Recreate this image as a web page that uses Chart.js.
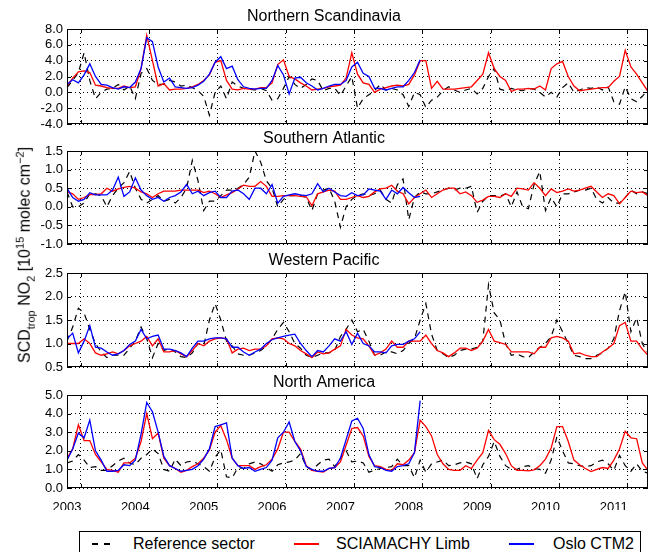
<!DOCTYPE html>
<html>
<head>
<meta charset="utf-8">
<script src="https://cdn.jsdelivr.net/npm/chart.js@4.4.0/dist/chart.umd.min.js"></script>
<style>
    body { margin: 0; background: #fff; font-family: "Liberation Sans", Arial, sans-serif; }
    #wrap { position: relative; width: 656px; height: 552px; overflow: hidden; }
    #wrap canvas { position: absolute; left: 0; }
    #ylabel {
        position: absolute; left: 25px; top: 255px; font-size: 16px; white-space: nowrap;
        transform: translate(-50%, -50%) rotate(-90deg);
    }
    #ylabel sub, #ylabel sup { font-size: 11px; }
    #legend {
        position: absolute; left: 79px; top: 531px; width: 560px; height: 30px;
        border: 1px solid #000; font-size: 16px;
    }
    #legend .sample { position: absolute; top: 11px; height: 2px; }
    #legend .txt { position: absolute; top: 3px; }
</style>
</head>
<body>
<div id="wrap">
    <canvas id="c1" width="656" height="131"></canvas>
    <canvas id="c2" width="656" height="129"></canvas>
    <canvas id="c3" width="656" height="130"></canvas>
    <canvas id="c4" width="656" height="143"></canvas>
    <div id="ylabel">SCD<sub>trop</sub> NO<sub>2</sub> [10<sup>15</sup> molec cm<sup>−2</sup>]</div>
    <div id="legend">
        <span class="sample" style="left:12px;width:20px;background:repeating-linear-gradient(to right,#000 0 6px,transparent 6px 12px);"></span>
        <span class="txt" style="left:53px;">Reference sector</span>
        <span class="sample" style="left:214px;width:25px;background:#f00;"></span>
        <span class="txt" style="left:256px;">SCIAMACHY Limb</span>
        <span class="sample" style="left:429px;width:25px;background:#00f;"></span>
        <span class="txt" style="left:473px;">Oslo CTM2</span>
    </div>
</div>
<script>
// monthly values, Jan 2003 .. Jul 2011 (index 0..102); Oslo CTM2 stops in early 2008
const yearTicks = [0, 12, 24, 36, 48, 60, 72, 84, 96];
const gridTicks = [2.4, 14.4, 26.4, 38.4, 50.4, 62.4, 74.4, 86.4, 98.4];

// Northern Scandinavia
const nsRef = [0.6, 1.5, 2.5, 5.0, 1.5, -0.8, 0.0, 0.4, 0.5, 1.0, 0.3, 0.8, -0.8, 2.4, 3.0, 1.5, 1.0, 1.0, 1.5, 1.3,
    0.8, 0.9, 0.6, 0.2, -0.5, -2.9, 0.0, 0.8, -0.8, 1.3, 0.8, 0.5, 0.4, 0.3, 0.5, 0.2, -1.0, -0.8, 0.5, 2.0,
    1.0, 0.5, 1.0, 1.7, 1.5, 0.2, 0.5, 0.5, -0.4, 0.8, 2.0, -2.0, -0.8, -0.3, 0.2, 1.0, 0.3, 0.5, 0.3, -0.3,
    -1.8, 0.0, -0.3, -1.9, -1.0, -0.6, 0.2, 0.7, 0.3, 0.0, 0.3, 0.5, -0.2, 0.5, 2.0, 3.0, 0.4, 0.2, 0.5, 0.3,
    0.2, 0.5, 0.4, 0.0, -0.6, 0.0, -0.6, 0.6, 1.2, 0.0, 0.3, 0.6, 0.5, 0.7, 0.3, 0.7, -1.2, -1.5, 0.7, -0.8,
    -1.2, -0.5, 0.3];
const nsSciamachy = [0.8, 1.8, 2.6, 2.7, 2.5, 0.9, 0.8, 0.6, 0.5, 0.5, 0.8, 0.6, 0.7, 3.0, 7.2, 4.0, 0.8, 1.1, 0.3, 0.4,
    0.4, 0.5, 0.7, 1.0, 1.5, 2.2, 3.8, 4.0, 1.5, 0.4, 0.3, 0.5, 0.4, 0.4, 0.6, 0.6, 1.2, 3.5, 4.1, 2.0,
    1.7, 1.2, 0.8, 0.3, 0.4, 0.5, 0.7, 0.8, 0.9, 1.8, 5.0, 2.3, 1.2, 1.0, 0.0, 0.4, 0.6, 0.8, 0.9, 0.8,
    1.0, 2.2, 4.0, 4.0, 0.5, 1.4, 0.4, 0.4, 0.4, 0.5, 0.6, 0.7, 1.5, 2.3, 5.0, 3.0, 2.0, 1.5, 0.1, 0.4,
    0.4, 0.5, 0.4, 0.8, 0.3, 3.0, 3.6, 3.9, 2.0, 0.8, 0.2, 0.3, 0.4, 0.5, 0.6, 0.6, 1.4, 2.0, 5.3, 3.2,
    2.3, 1.2, 0.1];
const nsOslo = [1.0, 1.6, 1.2, 2.2, 3.6, 2.0, 1.0, 0.9, 0.6, 0.4, 0.7, 0.6, 1.3, 3.0, 6.9, 6.4, 3.2, 1.3, 1.8, 0.7,
    0.6, 0.5, 0.6, 0.9, 1.4, 2.3, 3.8, 4.5, 3.0, 3.3, 1.6, 0.7, 0.5, 0.4, 0.5, 0.5, 1.5, 3.4, 2.2, -0.2,
    1.8, 1.9, 1.2, 0.8, 0.3, 0.5, 0.8, 1.0, 1.0, 1.5, 3.2, 3.8, 2.4, 2.0, 0.5, 0.5, 0.3, 0.5, 0.7, 0.7,
    1.5, 2.5, 4.1];

// Southern Atlantic
const saRef = [0.4, 0.0, 0.0, 0.1, 0.35, 0.35, 0.3, 0.0, 0.3, 0.5, 0.65, 0.95, 0.5, 0.2, 0.1, 0.2, 0.3, 0.15, 0.2, 0.1,
    0.25, 0.5, 1.25, 0.7, -0.1, 0.15, 0.15, 0.3, 0.45, 0.45, 0.5, 0.6, 0.8, 1.5, 1.2, 0.7, 0.5, 0.0, 0.2, 0.3,
    0.3, 0.3, 0.25, -0.1, 0.35, 0.45, 0.5, 0.15, -0.55, 0.0, 0.2, 0.3, 0.35, 0.3, 0.35, 0.45, 0.2, 0.1, 0.6, 0.75,
    -0.35, 0.25, 0.4, 0.35, 0.35, 0.4, 0.45, 0.5, 0.45, 0.5, 0.5, 0.55, -0.15, 0.15, 0.3, 0.3, 0.28, 0.35, 0.0, 0.4,
    0.0, -0.05, 0.6, 0.95, -0.1, 0.25, 0.0, 0.35, 0.35, 0.4, 0.45, 0.45, 0.5, 0.2, 0.1, 0.25, 0.1, 0.1, 0.25, 0.45,
    0.35, 0.4, 0.35];
const saSciamachy = [0.4, 0.35, 0.2, 0.25, 0.33, 0.33, 0.35, 0.5, 0.42, 0.48, 0.52, 0.55, 0.5, 0.4, 0.35, 0.25, 0.35, 0.42, 0.42, 0.42,
    0.45, 0.45, 0.45, 0.45, 0.38, 0.42, 0.35, 0.25, 0.32, 0.38, 0.48, 0.58, 0.55, 0.55, 0.68, 0.55, 0.28, 0.28, 0.3, 0.3,
    0.3, 0.28, 0.27, 0.03, 0.35, 0.4, 0.45, 0.42, 0.2, 0.2, 0.25, 0.3, 0.25, 0.28, 0.4, 0.48, 0.5, 0.58, 0.42, 0.35,
    0.08, 0.25, 0.35, 0.45, 0.25, 0.35, 0.45, 0.5, 0.5, 0.35, 0.4, 0.3, 0.12, 0.18, 0.28, 0.28, 0.25, 0.35, 0.28, 0.5,
    0.48, 0.45, 0.65, 0.5, 0.3, 0.48, 0.38, 0.42, 0.48, 0.42, 0.45, 0.5, 0.55, 0.4, 0.25, 0.35, 0.3, 0.08, 0.25, 0.42,
    0.38, 0.4, 0.3];
const saOslo = [0.5, 0.25, 0.15, 0.2, 0.38, 0.32, 0.32, 0.32, 0.45, 0.8, 0.28, 0.4, 0.78, 0.45, 0.3, 0.2, 0.25, 0.15, 0.25, 0.3,
    0.4, 0.6, 0.35, 0.42, 0.3, 0.38, 0.42, 0.25, 0.25, 0.42, 0.45, 0.35, 0.2, 0.5, 0.5, 0.35, 0.6, 0.1, 0.28, 0.32,
    0.35, 0.32, 0.3, 0.35, 0.62, 0.4, 0.5, 0.4, 0.3, 0.28, 0.38, 0.3, 0.32, 0.48, 0.45, 0.42, 0.2, 0.45, 0.35, 0.52,
    0.38, 0.25, 0.28];

// Western Pacific
const wpRef = [1.05, 1.35, 1.75, 1.65, 1.3, 1.0, 0.82, 0.7, 0.75, 0.75, 0.75, 0.9, 1.05, 1.35, 1.1, 0.7, 1.0, 0.85, 0.9, 0.82,
    0.72, 0.7, 0.8, 1.0, 0.95, 1.5, 1.85, 1.5, 1.05, 0.95, 0.78, 0.75, 0.75, 0.8, 0.85, 0.95, 1.1, 1.3, 1.45, 1.25,
    1.0, 0.9, 0.75, 0.7, 0.75, 0.8, 0.8, 0.85, 1.15, 1.3, 1.5, 1.25, 1.3, 1.05, 0.75, 0.75, 0.82, 0.82, 0.78, 0.85,
    1.0, 1.1, 1.5, 1.85, 1.2, 0.85, 0.78, 0.7, 0.75, 0.85, 0.88, 0.88, 0.92, 1.05, 2.25, 1.65, 1.5, 1.0, 0.75, 0.78,
    0.72, 0.7, 0.82, 0.92, 1.0, 1.15, 1.5, 1.25, 1.0, 0.75, 0.72, 0.68, 0.68, 0.75, 0.8, 0.9, 1.1, 1.7, 2.1, 1.25,
    1.55, 1.0, 0.8];
const wpSciamachy = [1.0, 1.0, 1.0, 1.1, 1.0, 0.8, 0.75, 0.78, 0.82, 0.78, 0.85, 0.95, 1.0, 1.05, 1.15, 0.95, 1.1, 0.82, 0.82, 0.85,
    0.78, 0.72, 0.85, 1.0, 0.95, 1.05, 1.1, 1.12, 1.1, 0.8, 0.88, 0.9, 0.85, 0.88, 0.88, 0.95, 1.1, 1.12, 1.1, 1.0,
    0.95, 0.85, 0.78, 0.7, 0.82, 0.78, 0.8, 0.88, 0.95, 1.3, 1.18, 1.12, 1.1, 0.95, 0.75, 0.8, 0.88, 1.05, 0.92, 0.92,
    1.05, 1.05, 1.05, 1.18, 1.0, 0.85, 0.8, 0.72, 0.8, 0.9, 0.9, 0.85, 0.9, 1.05, 1.3, 1.05, 1.02, 0.98, 0.82, 0.82,
    0.82, 0.82, 0.78, 0.92, 0.92, 1.12, 1.15, 1.12, 1.05, 0.78, 0.8, 0.75, 0.72, 0.72, 0.82, 0.9, 1.0, 1.38, 1.45, 1.05,
    1.05, 0.88, 0.75];
const wpOslo = [1.1, 1.22, 0.8, 1.05, 1.38, 0.92, 0.9, 0.82, 0.75, 0.78, 0.85, 0.98, 1.05, 1.3, 1.1, 1.15, 1.18, 0.88, 0.88, 0.85,
    0.8, 0.72, 0.9, 1.05, 1.05, 1.1, 1.12, 1.12, 1.1, 0.92, 0.92, 0.82, 0.75, 0.82, 0.88, 1.0, 1.08, 1.12, 1.15, 1.18,
    1.2, 1.0, 0.85, 0.72, 0.85, 0.82, 0.95, 1.1, 1.05, 1.25, 0.98, 1.22, 1.0, 0.95, 0.82, 0.82, 0.8, 0.95, 0.98, 0.98,
    1.05, 1.1, 1.25];

// North America
const naRef = [1.35, 1.45, 1.8, 1.5, 1.1, 1.15, 0.95, 0.95, 1.2, 1.45, 1.6, 1.35, 1.25, 1.6, 1.8, 2.1, 1.85, 1.0, 0.9, 1.55,
    1.2, 1.4, 1.45, 1.3, 1.15, 0.9, 1.65, 2.05, 0.6, 0.55, 1.1, 1.05, 1.3, 1.4, 1.3, 1.1, 0.9, 1.25, 1.35, 1.4,
    1.5, 1.85, 1.15, 0.95, 1.25, 1.5, 1.55, 1.15, 1.6, 2.0, 1.4, 1.45, 1.35, 0.85, 0.95, 1.05, 1.1, 1.15, 1.55, 1.2,
    1.2, 0.55, 1.5, 0.85, 1.3, 1.4, 1.5, 1.2, 1.25, 1.35, 1.4, 1.3, 0.5, 1.25, 1.7, 2.5, 1.7, 1.2, 1.0, 1.0,
    1.15, 1.2, 1.05, 1.0, 0.8, 1.5, 2.75, 2.0, 1.35, 1.3, 1.2, 1.15, 1.2, 1.4, 1.5, 1.3, 0.95, 1.75, 1.2, 0.9,
    1.3, 0.9, 0.8];
const naSciamachy = [1.6, 2.1, 3.4, 2.55, 2.55, 1.8, 1.4, 1.0, 0.95, 0.85, 1.35, 1.35, 1.6, 2.5, 4.0, 2.65, 2.95, 1.6, 1.2, 1.05,
    0.85, 0.95, 1.15, 1.3, 1.6, 2.05, 3.0, 3.35, 2.6, 1.6, 1.2, 1.2, 1.2, 1.0, 1.15, 1.25, 1.55, 2.1, 3.0, 3.0,
    2.5, 2.1, 1.2, 0.95, 0.9, 0.85, 1.05, 1.1, 1.4, 2.3, 3.2, 3.25, 2.8, 1.7, 1.2, 1.15, 1.0, 0.95, 1.3, 1.25,
    1.5, 1.9, 3.65, 3.3, 2.8, 1.8, 1.3, 1.0, 0.95, 0.95, 1.2, 1.05, 1.5, 1.9, 3.1, 2.6, 2.35, 1.85, 1.2, 0.95,
    0.95, 0.92, 0.98, 1.2, 1.55, 2.15, 3.3, 3.3, 2.5, 1.5, 1.25, 1.05, 0.88, 1.0, 1.1, 1.05, 1.5, 2.1, 3.05, 2.7,
    2.65, 1.35, 0.95];
const naOslo = [1.5, 2.1, 2.95, 2.7, 3.65, 2.0, 1.5, 0.9, 0.9, 0.95, 1.25, 1.2, 1.5, 2.9, 4.6, 4.1, 3.0, 1.7, 1.2, 1.05,
    0.9, 0.95, 1.0, 1.2, 1.55, 2.1, 3.3, 3.4, 3.5, 1.6, 1.2, 1.05, 1.1, 0.9, 1.0, 1.1, 1.5, 2.7, 3.0, 3.55,
    2.5, 2.0, 1.15, 1.0, 0.9, 0.9, 1.05, 1.1, 1.6, 2.6, 3.6, 3.75, 3.2, 1.8, 1.15, 1.1, 0.95, 0.9, 1.15, 1.2,
    1.3, 1.9, 4.7];

Chart.defaults.font.family = '"Liberation Sans", Arial, sans-serif';
Chart.defaults.color = '#000';

// 外框和向内的小刻度
const framePlugin = {
    id: 'frame',
    afterDraw(chart) {
        const { ctx, chartArea: a, scales } = chart;
        ctx.save();
        ctx.strokeStyle = '#000';
        ctx.lineWidth = 1;
        ctx.setLineDash([]);
        ctx.strokeRect(a.left + 0.5, a.top + 0.5, a.width - 1, a.height - 1);
        ctx.beginPath();
        scales.xg.ticks.forEach(t => {
            const x = Math.round(scales.xg.getPixelForValue(t.value)) + 0.5;
            ctx.moveTo(x, a.bottom); ctx.lineTo(x, a.bottom - 4);
            ctx.moveTo(x, a.top); ctx.lineTo(x, a.top + 4);
        });
        scales.y.ticks.forEach(t => {
            const y = Math.round(scales.y.getPixelForValue(t.value)) + 0.5;
            ctx.moveTo(a.left, y); ctx.lineTo(a.left + 4, y);
            ctx.moveTo(a.right, y); ctx.lineTo(a.right - 4, y);
        });
        ctx.stroke();
        ctx.restore();
    }
};

function toPoints(arr) {
    return arr.map((v, i) => ({ x: i, y: v }));
}

const panels = [
    { id: 'c1', title: 'Northern Scandinavia', top: 3, min: -4, max: 8, step: 2,
      ref: nsRef, sci: nsSciamachy, oslo: nsOslo, labels: false, bottomPad: 10 },
    { id: 'c2', title: 'Southern Atlantic', top: 125, min: -1, max: 1.5, step: 0.5,
      ref: saRef, sci: saSciamachy, oslo: saOslo, labels: false, bottomPad: 10 },
    { id: 'c3', title: 'Western Pacific', top: 247, min: 0.5, max: 2.5, step: 0.5,
      ref: wpRef, sci: wpSciamachy, oslo: wpOslo, labels: false, bottomPad: 10 },
    { id: 'c4', title: 'North America', top: 369, min: 0, max: 5, step: 1,
      ref: naRef, sci: naSciamachy, oslo: naOslo, labels: true, bottomPad: 2 }
];

panels.forEach(p => {
    const canvas = document.getElementById(p.id);
    canvas.style.top = p.top + 'px';

    new Chart(canvas, {
        type: 'line',
        data: {
            datasets: [
                { label: 'Oslo CTM2', data: toPoints(p.oslo), borderColor: '#0000ff', borderWidth: 1.3 },
                { label: 'SCIAMACHY Limb', data: toPoints(p.sci), borderColor: '#ff0000', borderWidth: 1.3 },
                { label: 'Reference sector', data: toPoints(p.ref), borderColor: '#000000', borderWidth: 1.2, borderDash: [6, 5] }
            ]
        },
        options: {
            responsive: false,
            animation: false,
            elements: { point: { radius: 0 }, line: { tension: 0, fill: false } },
            layout: { padding: { left: 0, right: 8, top: 0, bottom: p.bottomPad } },
            plugins: {
                legend: { display: false },
                tooltip: { enabled: false },
                title: {
                    display: true,
                    text: p.title,
                    font: { size: 16, weight: 'normal', lineHeight: 1 },
                    padding: { top: 6, bottom: 4 }
                }
            },
            scales: {
                x: {
                    type: 'linear', min: 0, max: 102,
                    display: p.labels,
                    grid: { display: false },
                    border: { display: false },
                    afterBuildTicks: s => { s.ticks = yearTicks.map(v => ({ value: v })); },
                    ticks: {
                        autoSkip: false, maxRotation: 0, padding: 4,
                        font: { size: 13 },
                        callback: v => String(2003 + v / 12)
                    },
                    afterFit: s => { s.height = p.labels ? 22 : 0; s.paddingLeft = 0; s.paddingRight = 0; }
                },
                xg: {
                    type: 'linear', min: 0, max: 102, position: 'bottom',
                    afterBuildTicks: s => { s.ticks = gridTicks.map(v => ({ value: v })); },
                    ticks: { display: false },
                    grid: { color: '#000', lineWidth: 1, drawTicks: false },
                    border: { display: false, dash: [1, 3] },
                    afterFit: s => { s.height = 0; s.paddingLeft = 0; s.paddingRight = 0; }
                },
                y: {
                    min: p.min, max: p.max,
                    ticks: {
                        stepSize: p.step, padding: 4, autoSkip: false,
                        font: { size: 13 },
                        callback: v => v.toFixed(1)
                    },
                    grid: { color: '#000', lineWidth: 1, drawTicks: false },
                    border: { display: false, dash: [1, 3] },
                    afterFit: s => { s.width = 67; s.paddingTop = 0; s.paddingBottom = 0; }
                }
            }
        },
        plugins: [framePlugin]
    });
});
</script>
</body>
</html>
